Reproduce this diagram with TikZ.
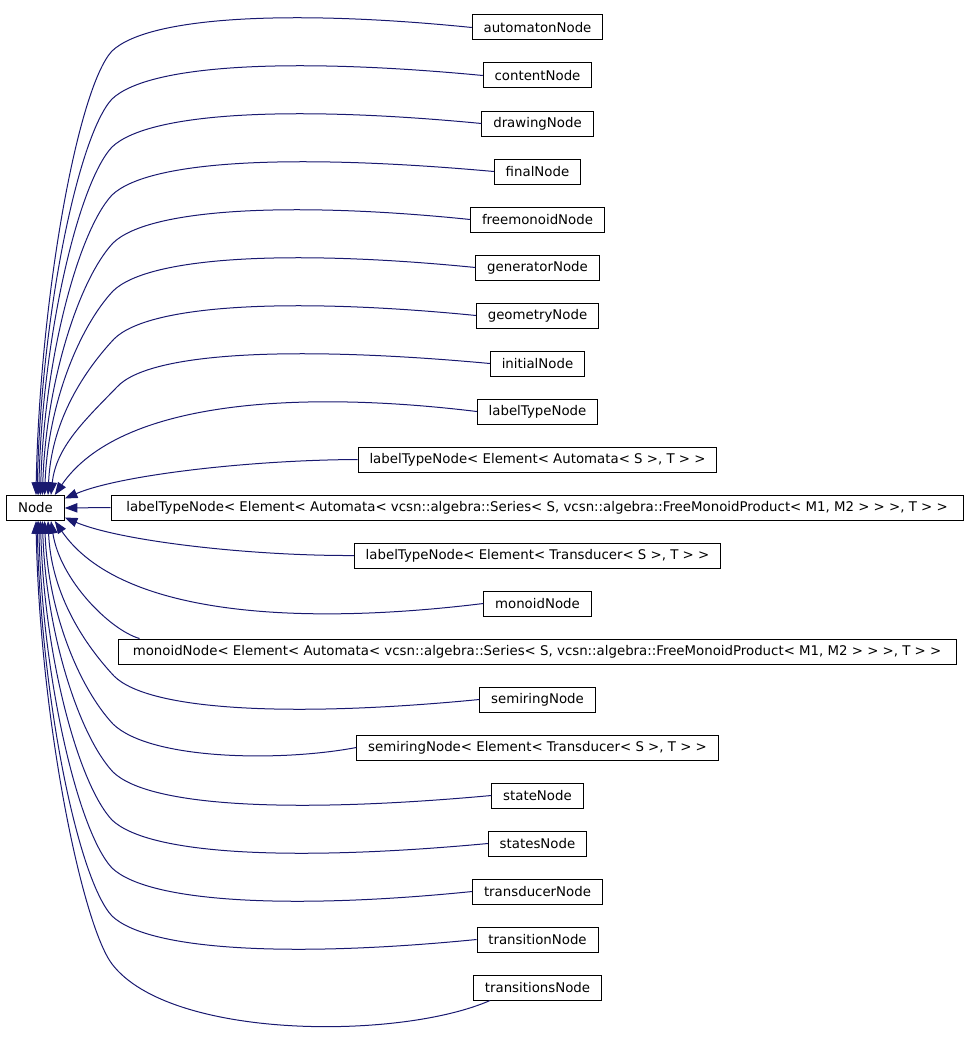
\documentclass[tikz,border=0pt]{standalone}
\usepackage{fontspec}
\setmainfont{DejaVu Sans}
\usetikzlibrary{arrows.meta,calc}
\definecolor{edgeblue}{HTML}{191970}
\begin{document}
\begin{tikzpicture}[x=0.75pt,y=-0.75pt,
  cls/.style={draw, line width=0.75pt, rectangle, inner xsep=8.5pt, inner ysep=0pt,
    minimum height=18.75pt, font=\fontsize{10}{12}\selectfont},
  inh/.style={draw=edgeblue, line width=0.75pt, -{Triangle[length=9.5pt,width=7pt]}, fill=none}]
\useasboundingbox (0,0) rectangle (968,1063);
\node(N)[cls] at (35.5,508){Node};

\node(Auto)[cls] at (537.5,27.5){automatonNode};
\node(Cont)[cls] at (537.5,75.5){contentNode};
\node(Draw)[cls] at (537.5,123.5){drawingNode};
\node(Fin)[cls] at (537.5,171.5){finalNode};
\node(Free)[cls] at (537.5,219.5){freemonoidNode};
\node(Gen)[cls] at (537.5,267.5){generatorNode};
\node(Geo)[cls] at (537.5,315.5){geometryNode};
\node(Init)[cls] at (537.5,363.5){initialNode};
\node(LT)[cls] at (537.5,411.5){labelTypeNode};
\node(LTA)[cls] at (537.5,459.5){labelTypeNode< Element< Automata< S >, T > >};
\node(LTS)[cls, minimum width=639pt] at (537,507.5){labelTypeNode< Element< Automata< vcsn::algebra::Series< S, vcsn::algebra::FreeMonoidProduct< M1, M2 > > >, T > >};
\node(LTT)[cls] at (537.5,555.5){labelTypeNode< Element< Transducer< S >, T > >};
\node(Mon)[cls] at (537.5,603.5){monoidNode};
\node(MonS)[cls, minimum width=628.5pt] at (537,651.5){monoidNode< Element< Automata< vcsn::algebra::Series< S, vcsn::algebra::FreeMonoidProduct< M1, M2 > > >, T > >};
\node(SR)[cls] at (537.5,699.5){semiringNode};
\node(SRT)[cls] at (537.5,747.5){semiringNode< Element< Transducer< S >, T > >};
\node(St)[cls] at (537.5,795.5){stateNode};
\node(Sts)[cls] at (537.5,843.5){statesNode};
\node(Trd)[cls] at (537.5,891.5){transducerNode};
\node(Tr)[cls] at (537.5,939.5){transitionNode};
\node(Trs)[cls] at (537.5,987.5){transitionsNode};

% above Node
\draw[inh] (Auto.west) .. controls (300,10) and (150,15) .. (112,51) .. controls (78,87.5) and (40,296) .. (N.88);
\draw[inh] (Cont.west) .. controls (300,58) and (150,63) .. (112,99) .. controls (78,135.5) and (41,317) .. (N.83);
\draw[inh] (Draw.west) .. controls (300,106) and (150,111) .. (112,147) .. controls (78,183.5) and (42,339) .. (N.76);
\draw[inh] (Fin.west) .. controls (300,154) and (150,159) .. (112,195) .. controls (78,231.5) and (44,361) .. (N.69);
\draw[inh] (Free.west) .. controls (300,202) and (150,207) .. (113,243) .. controls (79,279.5) and (46,382) .. (N.62);
\draw[inh] (Gen.west) .. controls (300,250) and (150,255) .. (113,291) .. controls (79,327.5) and (48,404) .. (N.55);
\draw[inh] (Geo.west) .. controls (300,298) and (150,303) .. (114,339) .. controls (80,375.5) and (51,425) .. (N.46);
\draw[inh] (Init.west) .. controls (300,346) and (150,351) .. (117,387) .. controls (85,420) and (56,447) .. (N.40);
\draw[inh] (LT.west) .. controls (300,390) and (120,400) .. (N.34);
\draw[inh] (LTA.west) .. controls (250,460) and (120,475) .. (N.18);
\draw[inh] (LTS.west) -- (N.east);
% below Node
\draw[inh] (LTT.west) .. controls (250,556) and (120,541) .. (N.-18);
\draw[inh] (Mon.west) .. controls (300,626) and (120,616) .. (N.-34);
\draw[inh] ($(MonS.north west)+(22,0)$) .. controls (110,630) and (60,580) .. (N.-40);
\draw[inh] (SR.west) .. controls (300,717) and (150,712) .. (114,676) .. controls (80,639.5) and (51,590) .. (N.-46);
\draw[inh] (SRT.west) .. controls (280,762) and (150,760) .. (113,724) .. controls (79,687.5) and (48,612) .. (N.-55);
\draw[inh] (St.west) .. controls (300,813) and (150,808) .. (113,772) .. controls (79,735.5) and (46,633) .. (N.-62);
\draw[inh] (Sts.west) .. controls (300,861) and (150,856) .. (112,820) .. controls (78,783.5) and (44,655) .. (N.-69);
\draw[inh] (Trd.west) .. controls (300,909) and (150,904) .. (112,868) .. controls (78,831.5) and (42,677) .. (N.-76);
\draw[inh] (Tr.west) .. controls (300,957) and (150,952) .. (112,916) .. controls (78,879.5) and (41,698) .. (N.-83);
\draw[inh] ($(Trs.south west)+(17,0)$) .. controls (400,1040) and (170,1040) .. (112,964) .. controls (82,924) and (40,720) .. (N.-88);
\end{tikzpicture}
\end{document}
